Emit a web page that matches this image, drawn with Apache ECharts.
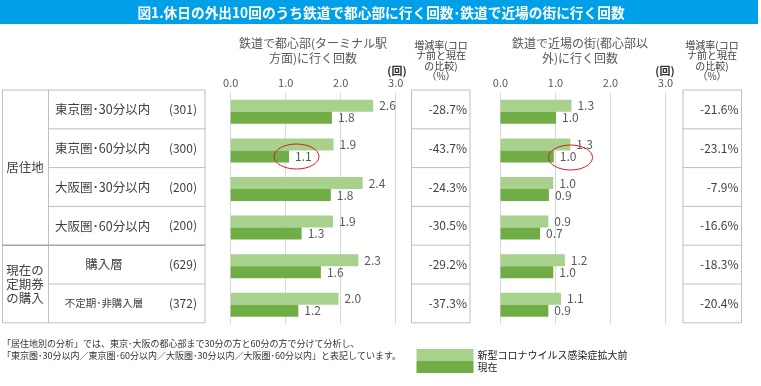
<!DOCTYPE html>
<html><head><meta charset="utf-8">
<script src="https://cdn.jsdelivr.net/npm/echarts@6/dist/echarts.min.js"></script>
<style>html,body{margin:0;padding:0;background:#fff}#c{width:761px;height:386px}</style>
</head><body><div id="c"></div>
<script>
// ---- data ----
const categories = ['東京圏･30分以内','東京圏･60分以内','大阪圏･30分以内','大阪圏･60分以内','購入層','不定期･非購入層'];
const sampleSizes = ['(301)','(300)','(200)','(200)','(629)','(372)'];
const groupNames = ['居住地','現在の\n定期券\nの購入'];
const groupRows = [4, 2];
const seriesNames = ['新型コロナウイルス感染症拡大前','現在'];
const centerBefore = [2.59,1.87,2.40,1.86,2.32,1.96];
const centerNow    = [1.84,1.06,1.82,1.29,1.64,1.23];
const centerChange = ['-28.7%','-43.7%','-24.3%','-30.5%','-29.2%','-37.3%'];
const nearBefore = [1.29,1.27,0.96,0.87,1.17,1.10];
const nearNow    = [1.01,0.97,0.88,0.72,0.96,0.87];
const nearChange = ['-21.6%','-23.1%','-7.9%','-16.6%','-18.3%','-20.4%'];
const chartTitles = ['鉄道で都心部(ターミナル駅\n方面)に行く回数','鉄道で近場の街(都心部以\n外)に行く回数'];
const changeHeader = '増減率(コロ\nナ前と現在\nの比較)\n（%）';
const unitLabel = '(回)';
const mainTitle = '図1.休日の外出10回のうち鉄道で都心部に行く回数･鉄道で近場の街に行く回数';
const footnotes = ['「居住地別の分析」では、東京･大阪の都心部まで30分の方と60分の方で分けて分析し、',
  '「東京圏･30分以内／東京圏･60分以内／大阪圏･30分以内／大阪圏･60分以内」と表記しています。'];

// ---- style/layout ----
const LIGHT = '#a9d18e', DARK = '#70ad47';
const FONT = '"Noto Sans CJK JP", "Noto Sans", sans-serif';
const TXT = '#404040', GREY = '#595959', BORDER = '#bfbfbf';
const TABLE_TOP = 90, ROW_H = 38.8;
const GRID_TOP = 92.5, GRID_H = 231.6;

const chart = echarts.init(document.getElementById('c'));

function xAxis(gi){
  return {gridIndex: gi, type:'value', position:'top', min:0, max:3, interval:1,
    axisLabel:{formatter: v => v.toFixed(1), margin:4, fontSize:11, color:GREY, fontFamily:FONT},
    axisLine:{show:false}, axisTick:{show:false},
    splitLine:{show:true, lineStyle:{color:'#d9d9d9', width:1}}};
}
function yAxis(gi){
  return {gridIndex: gi, type:'category', inverse:true, data:categories,
    axisLabel:{show:false}, axisLine:{show:false}, axisTick:{show:false}, splitLine:{show:false}};
}
function bar(name, data, gi, color){
  return {name, type:'bar', xAxisIndex:gi, yAxisIndex:gi, data, barWidth:12, barGap:'0%',
    itemStyle:{color}, emphasis:{disabled:true},
    label:{show:true, position:'right', distance:6, formatter: p => p.value.toFixed(1),
      fontSize:12, color:GREY, fontFamily:FONT}};
}

const g = [];
// title bar
g.push({type:'rect', shape:{x:0,y:0,width:758,height:24}, style:{fill:'#00a0e9'}});
g.push({type:'text', style:{text:mainTitle, x:381, y:13, align:'center', verticalAlign:'middle',
  fill:'#fff', font:'bold 13.7px '+FONT}});
// chart titles, headers
[[313,chartTitles[0]],[580,chartTitles[1]]].forEach(([x,t])=>g.push({type:'text',
  style:{text:t, x, y:36, align:'center', verticalAlign:'top', fill:GREY, font:'12px '+FONT, lineHeight:15}}));
[441, 712].forEach(x=>g.push({type:'text',
  style:{text:changeHeader, x, y:39.5, align:'center', verticalAlign:'top', fill:TXT, font:'10px '+FONT, lineHeight:10.5}}));
[397, 665].forEach(x=>g.push({type:'text',
  style:{text:unitLabel, x, y:71, align:'center', verticalAlign:'middle', fill:'#333', font:'bold 11px '+FONT}}));

// left table
const nRows = categories.length;
const TB = TABLE_TOP + ROW_H*nRows;
g.push({type:'rect', shape:{x:2.5,y:TABLE_TOP,width:202.5,height:ROW_H*nRows}, style:{fill:'none',stroke:BORDER,lineWidth:1}});
g.push({type:'line', shape:{x1:48.5,y1:TABLE_TOP,x2:48.5,y2:TB}, style:{stroke:BORDER,lineWidth:1}});
let r0 = 0;
groupRows.forEach((n,gi)=>{
  const y0 = TABLE_TOP + ROW_H*r0, y1 = TABLE_TOP + ROW_H*(r0+n);
  g.push({type:'text', style:{text:groupNames[gi], x:25, y:(y0+y1)/2, align:'center', verticalAlign:'middle',
    fill:TXT, font:'12.5px '+FONT, lineHeight:14}});
  if (r0>0) g.push({type:'line', shape:{x1:2.5,y1:y0,x2:205,y2:y0}, style:{stroke:'#a6a6a6',lineWidth:1.5}});
  r0 += n;
});
categories.forEach((c,i)=>{
  const yc = TABLE_TOP + ROW_H*(i+0.5);
  if (i>0 && i!==groupRows[0]) g.push({type:'line', shape:{x1:48.5,y1:TABLE_TOP+ROW_H*i,x2:205,y2:TABLE_TOP+ROW_H*i}, style:{stroke:BORDER,lineWidth:1}});
  const inGroup2 = i>=groupRows[0];
  g.push({type:'text', style:{text:c, x: inGroup2 ? 104 : 55, y:yc, align: inGroup2?'center':'left', verticalAlign:'middle',
    fill:TXT, font:(i===5?'10.5px ':'12.5px ')+FONT}});
  g.push({type:'text', style:{text:sampleSizes[i], x:197, y:yc, align:'right', verticalAlign:'middle',
    fill:TXT, font:'12px '+FONT}});
});
// change columns
[[411.5,centerChange],[683,nearChange]].forEach(([x,vals])=>{
  g.push({type:'rect', shape:{x, y:TABLE_TOP, width:58.5, height:ROW_H*nRows}, style:{fill:'none',stroke:BORDER,lineWidth:1}});
  vals.forEach((v,i)=>{
    if (i>0) g.push({type:'line', shape:{x1:x,y1:TABLE_TOP+ROW_H*i,x2:x+58.5,y2:TABLE_TOP+ROW_H*i}, style:{stroke:BORDER,lineWidth:1}});
    g.push({type:'text', style:{text:v, x:x+55.5, y:TABLE_TOP+ROW_H*(i+0.5), align:'right', verticalAlign:'middle',
      fill:TXT, font:'12px '+FONT}});
  });
});
// highlight ellipses (annotations)
g.push({type:'ellipse', shape:{cx:296.5,cy:156.5,rx:22.5,ry:12.5}, style:{fill:'none',stroke:'#d02020',lineWidth:1}, z:100});
g.push({type:'ellipse', shape:{cx:570.5,cy:157.5,rx:22,ry:12.5}, style:{fill:'none',stroke:'#d02020',lineWidth:1}, z:100});
// footnotes
footnotes.forEach((t,i)=>g.push({type:'text', style:{text:t, x:2, y:343.5+i*11.7, align:'left', verticalAlign:'middle',
  fill:'#333', font:'9px '+FONT}}));

chart.setOption({
  animation:false,
  textStyle:{fontFamily:FONT},
  grid:[{left:230.7, top:GRID_TOP, width:165, height:GRID_H},
        {left:500.5, top:GRID_TOP, width:165, height:GRID_H}],
  xAxis:[xAxis(0), xAxis(1)],
  yAxis:[yAxis(0), yAxis(1)],
  legend:{data:seriesNames, orient:'vertical', left:411.5, top:344, itemWidth:57, itemHeight:12, itemGap:0,
    icon:'rect', selectedMode:false, textStyle:{fontSize:10, color:'#222', fontFamily:FONT, padding:[0,0,0,-1]}},
  series:[bar(seriesNames[0], centerBefore, 0, LIGHT), bar(seriesNames[1], centerNow, 0, DARK),
          bar(seriesNames[0], nearBefore, 1, LIGHT), bar(seriesNames[1], nearNow, 1, DARK)],
  graphic:g
});
</script></body></html>
